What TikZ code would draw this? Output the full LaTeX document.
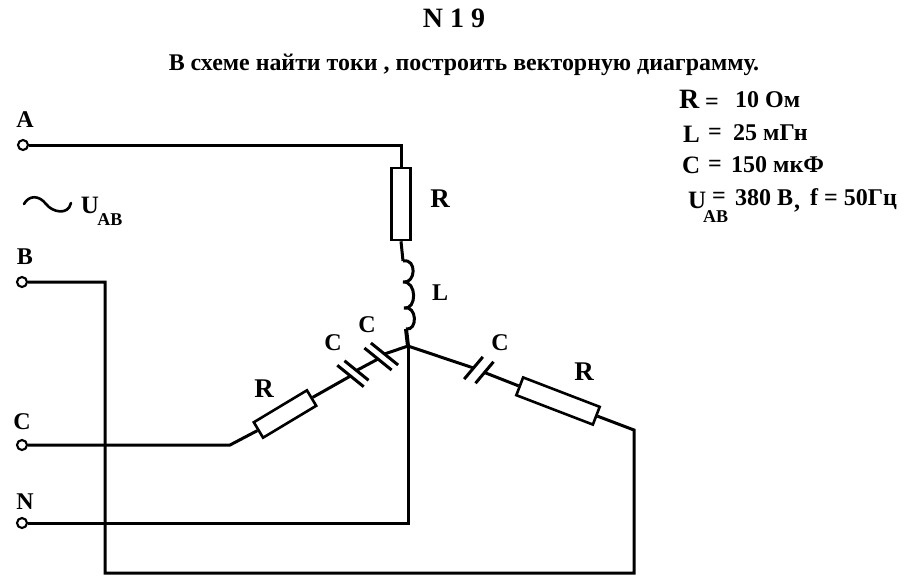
\documentclass[tikz,border=0pt]{standalone}
\usepackage{fontspec}
\setmainfont{Liberation Serif}
\tikzset{
  wire/.style={line width=3pt, line join=miter},
  term/.style={circle, draw, fill=white, line width=2.1pt, minimum size=10pt, inner sep=0pt},
  resist/.style={rectangle, draw, fill=white, line width=2.6pt, inner sep=0pt},
  plate/.style={rectangle, fill=black, minimum height=3pt, inner sep=0pt},
  lab/.style={font=\bfseries\fontsize{24}{26}\selectfont, inner sep=0pt},
  labbig/.style={font=\bfseries\fontsize{27}{29}\selectfont, inner sep=0pt},
  sublab/.style={font=\bfseries\fontsize{18}{20}\selectfont, inner sep=0pt},
  val/.style={font=\bfseries\fontsize{24}{26}\selectfont, inner sep=0pt, anchor=base west},
}
\begin{document}
\begin{tikzpicture}[x=1pt, y=-1pt]
  \useasboundingbox (0,0) rectangle (917,587);
  % header
  \node[font=\bfseries\fontsize{28}{30}\selectfont, inner sep=0pt] (title) at (454,18) {N 1 9};
  \node[font=\bfseries\fontsize{23.9}{26}\selectfont, inner sep=0pt] (task) at (464,65) {В схеме найти токи , построить векторную диаграмму.};
  % terminals
  \node[term] (A) at (23,145) {};
  \node[term] (B) at (22,282) {};
  \node[term] (Cc) at (22,445) {};
  \node[term] (N) at (22,523) {};
  \node[lab] (Alab) at (25,120) {A};
  \node[lab] (Blab) at (25,257) {B};
  \node[lab] (Clab) at (22,422) {C};
  \node[lab] (Nlab) at (25,502) {N};
  % corners
  \coordinate (Atop) at (401,145);
  \coordinate (J) at (408,346);
  \coordinate (Cbend) at (230,445);
  \coordinate (Nj) at (408,523);
  \coordinate (Rbend) at (634,430);
  \coordinate (Rbot) at (634,573);
  \coordinate (Bbot) at (105,573);
  \coordinate (Btop) at (105,282);
  \coordinate (Ltop) at (403,261);
  \coordinate (Lbot) at (406,329);
  % elements
  \node[resist, minimum width=19pt, minimum height=72pt] (R1) at (401,204) {};
  \node[resist, minimum width=62pt, minimum height=18pt, rotate=31] (R2) at (285,414) {};
  \node[resist, minimum width=82pt, minimum height=19pt, rotate=-21] (R3) at (558,401) {};
  \node[plate, minimum width=34pt, rotate=-39] (C1a) at (350.5,376) {};
  \node[plate, minimum width=31pt, rotate=-39] (C1b) at (356.5,370.5) {};
  \node[plate, minimum width=35pt, rotate=-39] (C2a) at (378,359) {};
  \node[plate, minimum width=35pt, rotate=-39] (C2b) at (384.5,354) {};
  \node[plate, minimum width=29pt, rotate=50] (C3a) at (473.5,368) {};
  \node[plate, minimum width=28pt, rotate=50] (C3b) at (484.5,372.5) {};
  % connectors
  \draw[wire] (A) -- (Atop) -- (R1.north);
  \draw[wire] (R1.south) -- (Ltop);
  \draw[wire] (Ltop) .. controls (417,258) and (416,284) .. (403,282)
    .. controls (417,281) and (417,310) .. (404,308)
    .. controls (417,305) and (418,331) .. (Lbot);
  \draw[line width=4pt] (Lbot) -- (J);
  \draw[wire] (J) -- (Nj) -- (N);
  \draw[wire] (Cc) -- (Cbend) -- (R2.west);
  \draw[wire] (R2.east) -- (C1a.center);
  \draw[wire] (C1b.center) -- (C2a.center);
  \draw[wire] (C2b.center) -- (J);
  \draw[wire] (J) -- (C3a.center);
  \draw[wire] (C3b.center) -- (R3.west);
  \draw[wire] (R3.east) -- (Rbend) -- (Rbot) -- (Bbot) -- (Btop) -- (B);
  % element labels
  \node[labbig] (R1lab) at (440,199) {R};
  \node[lab] (Llab) at (440,293) {L};
  \node[lab] (C1lab) at (333,343) {C};
  \node[lab] (C2lab) at (367,325) {C};
  \node[labbig] (R2lab) at (264,389) {R};
  \node[lab] (C3lab) at (500,343) {C};
  \node[labbig] (R3lab) at (584,372) {R};
  % source
  \draw[line width=2.6pt, line cap=round] (24,204) .. controls (29,195) and (39,195) .. (46,204)
    .. controls (52,212) and (68,216) .. (71,203);
  \node[lab, font=\bfseries\fontsize{25}{27}\selectfont] (Usrc) at (90,205) {U};
  \node[sublab] (ABsrc) at (110,220) {AB};
  % values
  \node[val, font=\bfseries\fontsize{28}{30}\selectfont] (Rval) at (679,108) {R};
  \node[val] (Req) at (705,109) {=};
  \node[val] (Rnum) at (735,107) {10 Ом};
  \node[val, font=\bfseries\fontsize{25}{27}\selectfont] (Lval) at (683,142) {L};
  \node[val] (Leq) at (708,139) {=};
  \node[val] (Lnum) at (733,140) {25 мГн};
  \node[val, font=\bfseries\fontsize{25}{27}\selectfont] (Cval) at (682,173) {C};
  \node[val] (Ceq) at (708,171) {=};
  \node[val] (Cnum) at (731,172) {150 мкФ};
  \node[val, font=\bfseries\fontsize{25}{27}\selectfont] (Uval) at (688,208) {U};
  \node[sublab, anchor=base west] (ABval) at (703,222) {AB};
  \node[val] (Ueq) at (712,203) {=};
  \node[val] (Unum) at (735,205) {380 В};
  \node[val] (comma) at (794,208) {,};
  \node[val] (fval) at (810,205) {f = 50Гц};
\end{tikzpicture}
\end{document}
